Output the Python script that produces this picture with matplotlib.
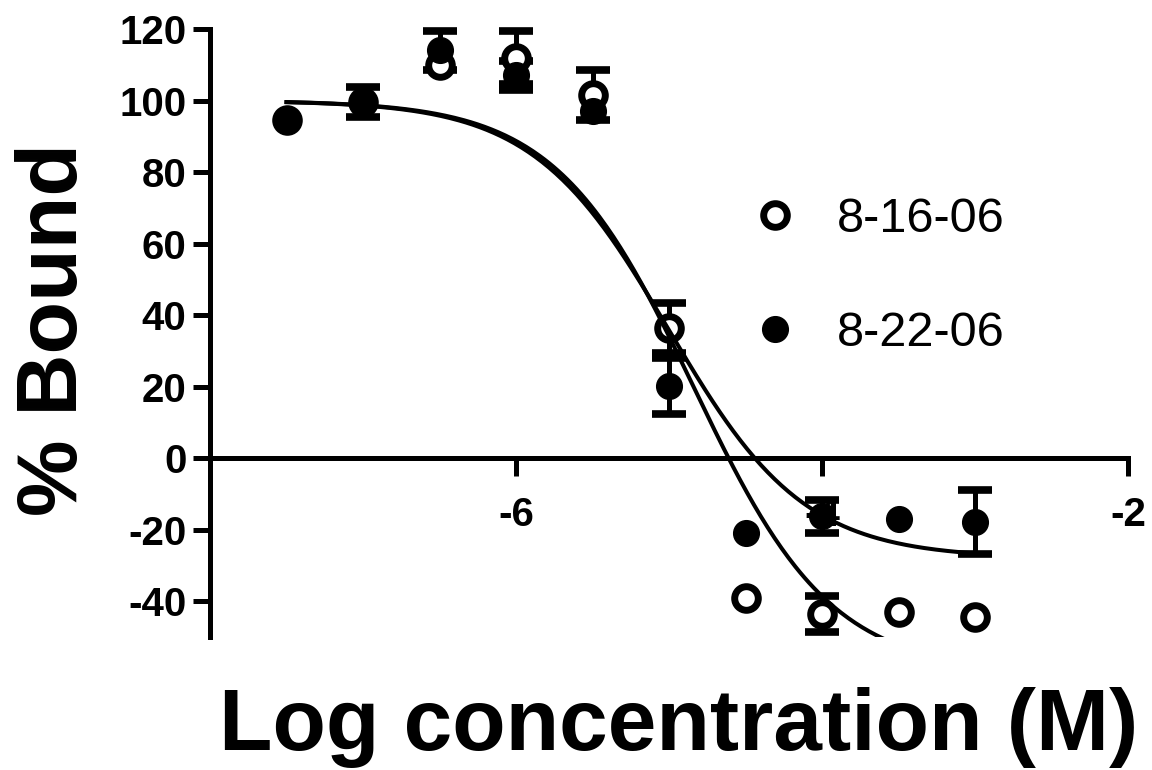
import numpy as np
import matplotlib
matplotlib.use('Agg')
import matplotlib.pyplot as plt

plt.rcParams['font.family'] = ['Liberation Sans', 'DejaVu Sans']

# log concentration (M)
log_conc = np.array([-7.5, -7.0, -6.5, -6.0, -5.5, -5.0, -4.5, -4.0, -3.5, -3.0])

# 8-16-06 (open circles)
bound_0816 = np.array([94.5, 99.5, 110.0, 112.0, 101.5, 36.5, -39.0, -43.5, -43.0, -44.5])
err_0816 = np.array([np.nan, np.nan, np.nan, 7.5, 7.0, 7.0, np.nan, 5.0, np.nan, np.nan])

# 8-22-06 (filled circles)
bound_0822 = np.array([94.3, 99.6, 114.0, 107.0, 97.0, 20.2, -21.0, -16.2, -17.0, -17.8])
err_0822 = np.array([np.nan, 4.3, 5.5, 4.0, np.nan, 7.8, np.nan, 4.6, np.nan, 9.0])

# fitted sigmoid parameters: top, bottom, logIC50, hill slope
fit_0816 = (100.0, -60.0, -4.84, 0.965)
fit_0822 = (100.0, -28.0, -5.003, 0.98)

labels = ['8-16-06', '8-22-06']
x_ticks = [-6, -4, -2]
y_ticks = [-40, -20, 0, 20, 40, 60, 80, 100, 120]


def sigmoid(x, p):
    top, bottom, logic50, hill = p
    return bottom + (top - bottom) / (1 + 10 ** ((x - logic50) * hill))


fig = plt.figure(figsize=(11.52, 7.7), dpi=100)
ax = fig.add_axes([210 / 1152, 1 - 637 / 770, 918 / 1152, 608 / 770])

lw = 3.6

# error bars
for y, e in [(bound_0816, err_0816), (bound_0822, err_0822)]:
    m = ~np.isnan(e)
    ax.errorbar(log_conc[m], y[m], yerr=e[m], fmt='none', ecolor='black',
                elinewidth=3.6, capsize=12, capthick=5.5, clip_on=False, zorder=3)

h1, = ax.plot(log_conc, bound_0816, 'o', ms=17, mfc='white', mec='black', mew=5,
              ls='none', clip_on=False, zorder=4, label=labels[0])
h2, = ax.plot(log_conc, bound_0822, 'o', ms=18.5, mfc='black', mec='black',
              ls='none', clip_on=False, zorder=4, label=labels[1])

xx = np.linspace(log_conc[0], log_conc[-1], 300)
ax.plot(xx, sigmoid(xx, fit_0816), color='black', lw=2.9, zorder=5)
ax.plot(xx, sigmoid(xx, fit_0822), color='black', lw=2.9, zorder=5)

ax.set_xlim(-8, -2)
ax.set_ylim(-50, 120)

for s in ['top', 'right']:
    ax.spines[s].set_visible(False)
ax.spines['bottom'].set_position(('data', 0))
ax.spines['left'].set_linewidth(lw)
ax.spines['bottom'].set_linewidth(lw)

ax.set_xticks(x_ticks)
ax.set_xticklabels([str(t) for t in x_ticks])
ax.set_yticks(y_ticks)
ax.set_yticklabels([str(t) for t in y_ticks])
ax.tick_params(axis='x', direction='out', length=13, width=lw, pad=14,
               labelsize=29)
ax.tick_params(axis='y', direction='out', length=12, width=lw, pad=5,
               labelsize=29)
for t in ax.get_xticklabels() + ax.get_yticklabels():
    t.set_fontweight('bold')

leg = ax.legend(handles=[h1, h2], loc='upper left',
                bbox_to_anchor=((751 - 210) / 918, (637 - 197) / 608),
                frameon=False, fontsize=35, handlelength=1.0,
                handletextpad=0.77, labelspacing=1.42, borderpad=0,
                borderaxespad=0)

fig.text(77 / 1152, 1 - 330 / 770, '% Bound', rotation=90, rotation_mode='anchor',
         ha='center', va='baseline', fontsize=62, fontweight='bold')
fig.text(679 / 1152, 1 - 750 / 770, 'Log concentration (M)', ha='center',
         va='baseline', fontsize=63, fontweight='bold')

fig.savefig('out.png', dpi=100)
